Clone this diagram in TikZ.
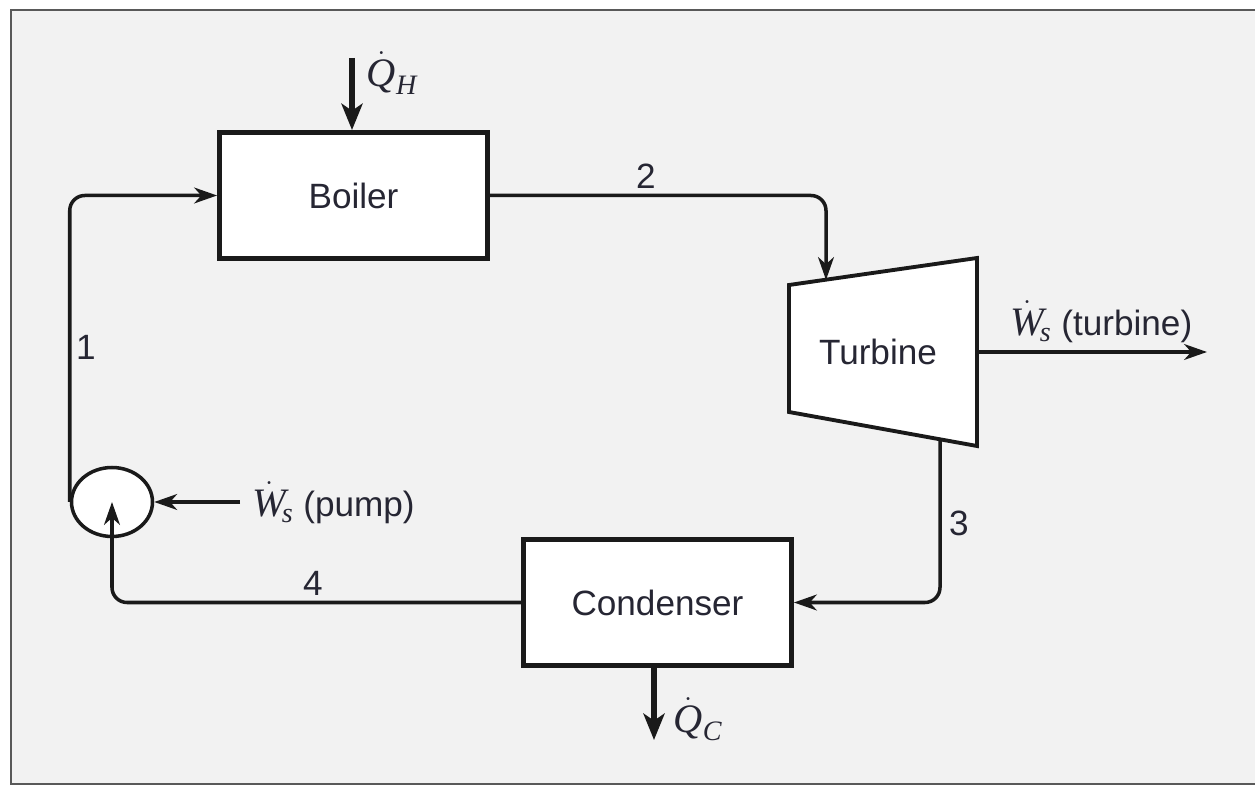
\documentclass[tikz,border=0pt]{standalone}
\usepackage{fontspec}
\setmainfont{Liberation Sans}
\newfontfamily\tms{Liberation Serif}
\usetikzlibrary{arrows.meta,shapes.geometric}
\definecolor{bg}{HTML}{F2F2F2}
\definecolor{txt}{HTML}{262633}
\definecolor{ln}{HTML}{1A1A1A}
\newcommand{\itv}[1]{\mbox{\fontsize{23}{24}\selectfont\tms\itshape #1}}
\newcommand{\itsub}[1]{\mbox{\fontsize{16}{16}\selectfont\tms\itshape #1}}
\tikzset{
  unit/.style={draw=ln, fill=white, line width=2.8pt, minimum width=5.36cm, minimum height=2.52cm,
               inner sep=0pt, text=txt, font=\fontsize{20}{24}\selectfont},
  flow/.style={draw=ln, line width=2pt, rounded corners=0.3cm, -{Stealth[length=13pt,width=9pt,inset=4pt]}},
  heat/.style={draw=ln, line width=3.2pt, -{Stealth[length=15pt,width=12pt,inset=4pt]}},
  lbl/.style={text=txt, font=\fontsize{20}{24}\selectfont, inner sep=0pt},
}
\begin{document}
\begin{tikzpicture}[x=0.02cm,y=-0.02cm]
\useasboundingbox (0,0) rectangle (1255,786);
\fill[white] (0,0) rectangle (1255,786);
\draw[fill=bg, draw=black!65, line width=1pt] (11,10) rectangle (1270,784);

% Boiler and condenser
\node[unit] (boiler) at (353.5,195.5) {Boiler};
\node[unit] (cond) at (657.5,602.5) {Condenser};

% Turbine
\coordinate (tTL) at (789,285);
\coordinate (tTR) at (977,258);
\coordinate (tBR) at (977,446);
\coordinate (tBL) at (789,412);
\draw[ln, fill=white, line width=2.2pt, line join=miter] (tTL) -- (tTR) -- (tBR) -- (tBL) -- cycle;
\node[lbl] (turb) at (878,352) {Turbine};
\coordinate (tin) at (826,280);
\coordinate (tout) at (977,352);
\coordinate (tbot) at (940,441);

% Pump
\node[ellipse, draw=ln, fill=white, line width=2pt, inner sep=0pt,
      minimum width=1.62cm, minimum height=1.38cm] (pump) at (112,502) {};

% Flows
\draw[flow] (pump.west) |- (boiler.west);
\draw[flow] (boiler.east) -| (tin);
\draw[flow] (tbot) |- (cond.east);
\draw[flow] (cond.west) -| (pump.center);

% Energy arrows
\coordinate (qh) at (352,58);
\draw[heat] (qh) -- (boiler.north -| qh);
\node[lbl] (qhl) at (392,73) {$\dot{\itv{Q}}_{\itsub{H}}$};

\coordinate (qc) at (654,740);
\draw[heat] (cond.south -| qc) -- (qc);
\node[lbl] (qcl) at (698,719) {$\dot{\itv{Q}}_{\itsub{C}}$};

\coordinate (wt) at (1207,352);
\draw[flow] (tout) -- (wt);
\node[lbl, anchor=west] (wtl) at (1010,322) {$\dot{\itv{W}}_{\!\itsub{s}}$ (turbine)};

\coordinate (wp) at (240,502);
\draw[flow] (wp) -- (pump.east);
\node[lbl, anchor=west] (wpl) at (252,503) {$\dot{\itv{W}}_{\!\itsub{s}}$ (pump)};

% State labels
\node[lbl] (s1) at (86,347) {1};
\node[lbl] (s2) at (646,176) {2};
\node[lbl] (s3) at (959,523) {3};
\node[lbl] (s4) at (313,583) {4};
\end{tikzpicture}
\end{document}
